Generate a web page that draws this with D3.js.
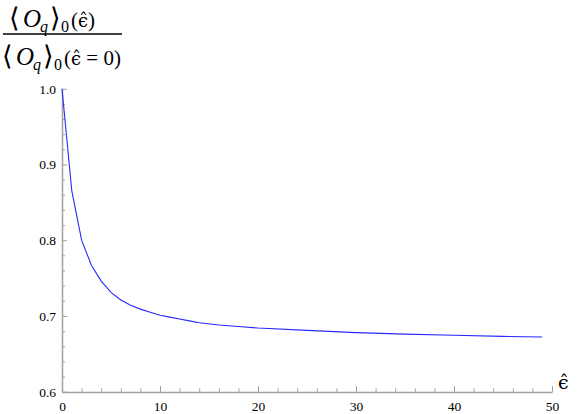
<!DOCTYPE html>
<html>
<head>
<meta charset="utf-8">
<script src="https://cdn.jsdelivr.net/npm/d3@7"></script>
<style>
  body { margin: 0; background: #fff; }
  svg { display: block; }
  .axis path, .axis line { stroke: #a0a0a0; }
  .axis path { stroke-width: 1.5; }
</style>
</head>
<body>
<div id="chart"></div>
<script>
// values
const epsValues   = [0, 1, 2, 3, 4, 5, 6, 7, 8, 9, 10, 11, 12, 13, 14, 16, 18, 20, 25, 30, 35, 40, 45, 49];
const ratioValues = [1.0, 0.865, 0.800, 0.767, 0.746, 0.731, 0.721, 0.714, 0.709, 0.705, 0.701, 0.6985, 0.696, 0.6935, 0.691, 0.688, 0.686, 0.684, 0.681, 0.678, 0.676, 0.6745, 0.673, 0.6722];
const xTicks = [0, 10, 20, 30, 40, 50];
const xMinor = [2, 4, 6, 8, 12, 14, 16, 18, 22, 24, 26, 28, 32, 34, 36, 38, 42, 44, 46, 48];
const yTicks = [0.6, 0.7, 0.8, 0.9, 1.0];
const yMinor = [0.62, 0.64, 0.66, 0.68, 0.72, 0.74, 0.76, 0.78, 0.82, 0.84, 0.86, 0.88, 0.92, 0.94, 0.96, 0.98];

const serif = "'Liberation Serif', 'Times New Roman', serif";
const dvSerif = "'DejaVu Serif', serif";  // better placed combining hat

const W = 581, H = 414;
const svg = d3.select("#chart").append("svg")
    .attr("width", W)
    .attr("height", H);

const x = d3.scaleLinear().domain([0, 50]).range([62, 552]);
const y = d3.scaleLinear().domain([0.6, 1.0]).range([391.7, 88.7]);

// minor ticks first
svg.append("g")
    .attr("class", "axis")
    .attr("transform", "translate(0,392)")
    .call(d3.axisBottom(x).tickValues(xMinor).tickSize(-3.5).tickSizeOuter(0).tickFormat(""))
    .call(g => g.select(".domain").remove());

svg.append("g")
    .attr("class", "axis")
    .attr("transform", "translate(62,0)")
    .call(d3.axisLeft(y).tickValues(yMinor).tickSize(-3).tickSizeOuter(0).tickFormat(""))
    .call(g => g.select(".domain").remove());

// major ticks + labels
svg.append("g")
    .attr("class", "axis")
    .attr("transform", "translate(0,392)")
    .call(d3.axisBottom(x).tickValues(xTicks).tickSize(-6).tickSizeOuter(0).tickPadding(9).tickFormat(d3.format("d")))
    .call(g => g.selectAll("text").style("font-family", serif).style("font-size", "13.5px").attr("fill", "#000"));

svg.append("g")
    .attr("class", "axis")
    .attr("transform", "translate(62,0)")
    .call(d3.axisLeft(y).tickValues(yTicks).tickSize(-5).tickSizeOuter(0).tickPadding(6).tickFormat(d3.format(".1f")))
    .call(g => g.selectAll("text").style("font-family", serif).style("font-size", "13.5px").attr("fill", "#000"));

// curve
const line = d3.line()
    .x((d, i) => x(epsValues[i]))
    .y(d => y(d));

svg.append("path")
    .datum(ratioValues)
    .attr("fill", "none")
    .attr("stroke", "#2828ff")
    .attr("stroke-width", 1.1)
    .attr("d", line);

// x axis label
svg.append("text")
    .attr("x", 558)
    .attr("y", 389)
    .style("font-family", dvSerif)
    .style("font-size", "19px")
    .text("\u03f5\u0302");

// y axis label, a fraction
function fracPart(x0, yy, eqZero) {
    const t = svg.append("text")
        .attr("y", yy)
        .style("font-family", serif)
        .style("font-size", "25px");
    t.append("tspan").attr("x", x0).style("font-size", "27px").text("\u27e8");
    t.append("tspan").attr("x", x0 + 14).style("font-style", "italic").text("O");
    t.append("tspan").attr("x", x0 + 31).attr("dy", 5).style("font-style", "italic").style("font-size", "16px").text("q");
    t.append("tspan").attr("x", x0 + 41).attr("dy", -5).style("font-size", "27px").text("\u27e9");
    t.append("tspan").attr("x", x0 + 52).attr("dy", 5).style("font-size", "16px").text("0");
    t.append("tspan").attr("x", x0 + 62).attr("dy", -5).style("font-size", "21px").text("(");
    t.append("tspan").style("font-size", "18px").style("font-family", dvSerif).text("\u03f5\u0302");
    t.append("tspan").style("font-size", "21px").text(eqZero ? " = 0)" : ")");
}

fracPart(9, 27, false);

svg.append("line")
    .attr("x1", 3).attr("x2", 122)
    .attr("y1", 34).attr("y2", 34)
    .attr("stroke", "#000")
    .attr("stroke-width", 1.5);

fracPart(2, 65, true);
</script>
</body>
</html>
